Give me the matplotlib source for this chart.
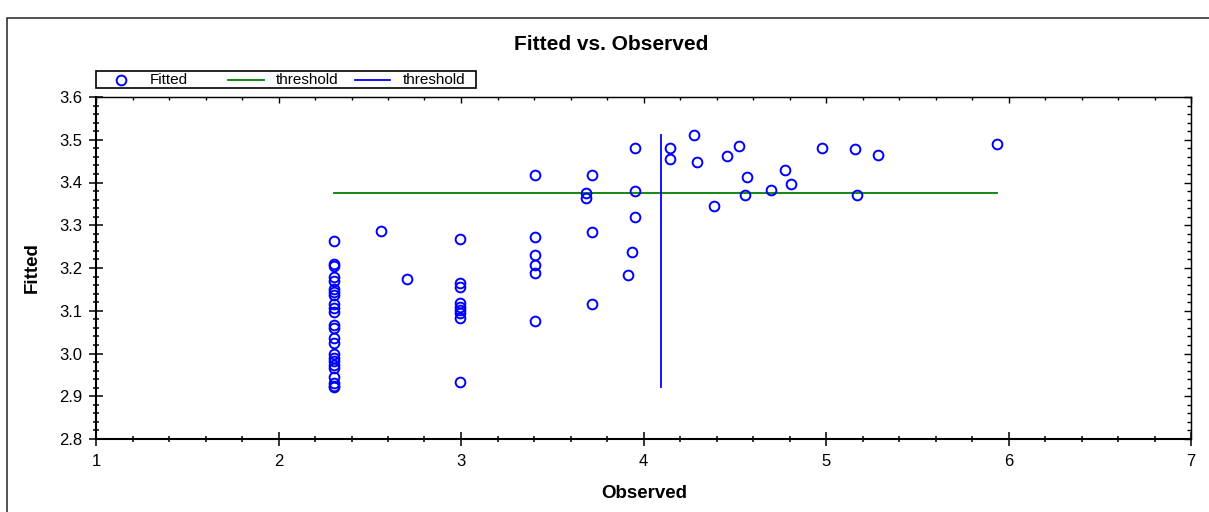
import matplotlib
matplotlib.use("Agg")
import matplotlib.pyplot as plt
from matplotlib.ticker import MultipleLocator, FormatStrFormatter
from matplotlib.lines import Line2D
from matplotlib.patches import Rectangle

plt.rcParams['font.family'] = ['Liberation Sans', 'DejaVu Sans']

# ---- data ----
observed = [
    2.302, 2.302, 2.302, 2.302, 2.302, 2.302, 2.302, 2.302, 2.302, 2.302, 2.302, 2.302,
    2.302, 2.302, 2.302, 2.302, 2.302, 2.302, 2.302, 2.302, 2.302, 2.302, 2.302, 2.302,
    2.562, 2.704,
    2.996, 2.996, 2.996, 2.996, 2.996, 2.996, 2.996, 2.996, 2.996,
    3.405, 3.405, 3.405, 3.405, 3.405, 3.405,
    3.685, 3.685, 3.716, 3.716, 3.716,
    3.953, 3.953, 3.953, 3.937, 3.915,
    4.145, 4.145, 4.277, 4.295, 4.386, 4.456, 4.525, 4.565, 4.556, 4.697,
    4.775, 4.808, 4.976, 5.159, 5.168, 5.287, 5.935,
]
fitted = [
    3.262, 3.210, 3.205, 3.178, 3.170, 3.150, 3.143, 3.137, 3.116, 3.107, 3.098, 3.067,
    3.060, 3.036, 3.025, 3.000, 2.990, 2.982, 2.974, 2.966, 2.946, 2.932, 2.925, 2.921,
    3.287, 3.174,
    3.269, 3.164, 3.156, 3.117, 3.109, 3.102, 3.094, 3.084, 2.934,
    3.418, 3.273, 3.230, 3.206, 3.188, 3.077,
    3.376, 3.364, 3.418, 3.285, 3.115,
    3.481, 3.380, 3.319, 3.238, 3.184,
    3.481, 3.455, 3.511, 3.447, 3.345, 3.461, 3.485, 3.412, 3.371, 3.382,
    3.429, 3.396, 3.481, 3.478, 3.371, 3.464, 3.490,
]
threshold_fitted = 3.375
threshold_observed = 4.096
title = "Fitted vs. Observed"
x_label = "Observed"
y_label = "Fitted"
legend_labels = ["Fitted", "threshold", "threshold"]

W, H = 1209, 512
fig = plt.figure(figsize=(W / 100, H / 100), dpi=100)


def fx(px):
    return px / W


def fy(py):
    return 1 - py / H


# outer frame
fig.add_artist(Rectangle((fx(7), -0.2), 1.5, fy(18) + 0.2, transform=fig.transFigure,
                         fill=False, edgecolor='#222222', linewidth=1.1))

ax = fig.add_axes([fx(96), fy(439), fx(1191) - fx(96), fy(97) - fy(439)])
ax.plot(observed, fitted, linestyle='none', marker='o', markersize=7,
        markerfacecolor='none', markeredgecolor='#0000ff', markeredgewidth=1.4, zorder=3)
ax.plot([min(observed), max(observed)], [threshold_fitted, threshold_fitted],
        color='#008000', linewidth=1.3, zorder=2)
ax.plot([threshold_observed, threshold_observed], [min(fitted), max(fitted)],
        color='#0000ff', linewidth=1.3, zorder=2)

ax.set_xlim(1, 7)
ax.set_ylim(2.8, 3.6)
ax.xaxis.set_major_locator(MultipleLocator(1))
ax.xaxis.set_minor_locator(MultipleLocator(0.2))
ax.yaxis.set_major_locator(MultipleLocator(0.1))
ax.yaxis.set_minor_locator(MultipleLocator(0.02))
ax.tick_params(which='both', direction='inout', top=False, right=False,
               labelsize=12, colors='black', width=1.1)
ax.tick_params(axis='x', which='major', length=9.5, pad=6)
ax.tick_params(axis='y', which='major', length=9.5, pad=5)
ax.tick_params(which='minor', length=4.5)
ax.spines['left'].set_linewidth(1.5)
ax.spines['bottom'].set_linewidth(1.5)
ax.spines['top'].set_linewidth(0.9)
ax.spines['right'].set_linewidth(0.9)

secx = ax.secondary_xaxis('top')
secx.xaxis.set_major_locator(MultipleLocator(1))
secx.xaxis.set_minor_locator(MultipleLocator(0.2))
secx.tick_params(which='both', direction='in', labeltop=False, width=1.0)
secx.tick_params(which='major', length=4.5)
secx.tick_params(which='minor', length=2.5)
secx.spines['top'].set_linewidth(0.9)

secy = ax.secondary_yaxis('right')
secy.yaxis.set_major_locator(MultipleLocator(0.1))
secy.yaxis.set_minor_locator(MultipleLocator(0.02))
secy.tick_params(which='both', direction='in', labelright=False, width=1.0)
secy.tick_params(which='major', length=5)
secy.tick_params(which='minor', length=3)
secy.spines['right'].set_linewidth(0.9)

ax.yaxis.set_major_formatter(FormatStrFormatter('%.1f'))
ax.xaxis.set_major_formatter(FormatStrFormatter('%d'))

fig.text(fx(611), fy(44), title, ha='center', va='center', fontsize=15, fontweight='bold')
fig.text(fx(644), fy(493), x_label, ha='center', va='center', fontsize=13.5, fontweight='bold')
fig.text(fx(32), fy(268), y_label, ha='center', va='center', fontsize=13.5,
         fontweight='bold', rotation=90)

# legend (manual, equal-width columns)
fig.add_artist(Rectangle((fx(96), fy(88)), fx(476) - fx(96), fy(71) - fy(88),
                         transform=fig.transFigure, fill=True, facecolor='white',
                         edgecolor='black', linewidth=1.2, zorder=5))
ly = fy(79.5)
fig.add_artist(Line2D([fx(121)], [ly], transform=fig.transFigure, linestyle='none',
                      marker='o', markersize=7, markerfacecolor='none',
                      markeredgecolor='#0000ff', markeredgewidth=1.4, zorder=6))
fig.add_artist(Line2D([fx(228), fx(264)], [ly, ly], transform=fig.transFigure,
                      color='#008000', linewidth=1.3, zorder=6))
fig.add_artist(Line2D([fx(355), fx(390)], [ly, ly], transform=fig.transFigure,
                      color='#0000ff', linewidth=1.3, zorder=6))
for xpx, lab in zip([150, 276, 403], legend_labels):
    fig.text(fx(xpx), ly, lab, ha='left', va='center', fontsize=11, zorder=7)

fig.savefig('out.png', dpi=100)
